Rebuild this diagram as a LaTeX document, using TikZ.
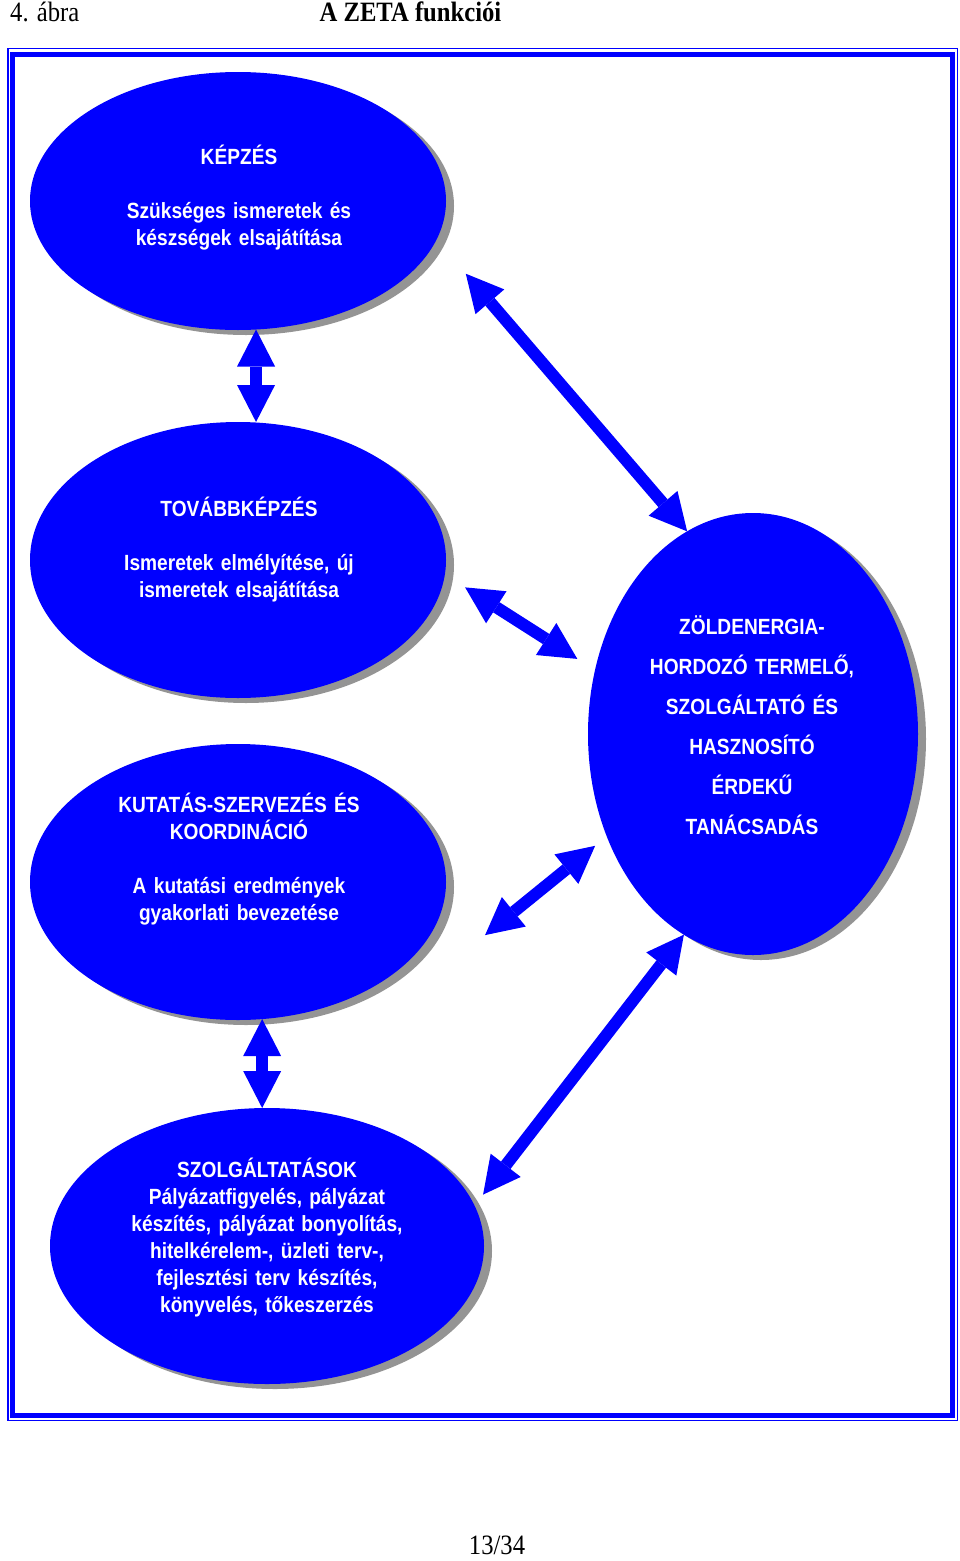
\documentclass[tikz,border=0pt]{standalone}
\usepackage{fontspec}
\setmainfont[FakeStretch = 0.88]{Liberation Serif}
\setsansfont[FakeStretch = 0.87]{Liberation Sans}
\usetikzlibrary{shapes.geometric}
\usetikzlibrary{shadows}
\usetikzlibrary{arrows.meta}
\definecolor{zetablue}{RGB}{0,0,255}
\tikzset{
	blob/.style = {ellipse, fill = zetablue, inner sep = 0pt, outer sep = 0pt, drop shadow = {shadow xshift = 8pt, shadow yshift = -5pt, fill = black!42, opacity = 1}},
	blobtext/.style = {anchor = base, inner sep = 0pt, text width = 320pt, text = white, align = center, font = \sffamily\bfseries\fontsize{22}{27}\selectfont},
	biarrow/.style = {zetablue, line width = 12pt, {Triangle[length = 37pt, width = 38pt, line width = 0pt]}-{Triangle[length = 37pt, width = 38pt, line width = 0pt]}}
}
\begin{document}
\begin{tikzpicture}[x = 1pt, y = -1pt]
		\useasboundingbox (0,0) rectangle (960,1561);
		\draw[zetablue, line width = 1.5pt] (8,48.5) rectangle (957.5,1420.5);
		\draw[zetablue, line width = 5pt] (12.5,54) rectangle (952.5,1415.5);
		%
		\node (cim)[anchor = base west, inner sep = 0pt, font = \fontsize{28}{30}\selectfont] at (10,21){4. ábra};
		\node (focim)[anchor = base, inner sep = 0pt, font = \bfseries\fontsize{28}{30}\selectfont] at (410.5,21){A ZETA funkciói};
		\node (oldal)[anchor = base, inner sep = 0pt, font = \fontsize{28}{30}\selectfont] at (497,1554){13/34};
		%
		\node (kepzes)[blob, minimum width = 416pt, minimum height = 258pt] at (238,201){};
		\node (tovabb)[blob, minimum width = 416pt, minimum height = 276pt] at (238,560){};
		\node (kutat)[blob, minimum width = 416pt, minimum height = 276pt] at (238,882){};
		\node (zold)[blob, minimum width = 330pt, minimum height = 442pt] at (753,734){};
		\node (szolg)[blob, minimum width = 434pt, minimum height = 276pt] at (267,1246){};
		%
		\node (t1)[blobtext] at ([shift = {(1,-37)}]kepzes.center){KÉPZÉS\\[27pt]Szükséges ismeretek és\\készségek elsajátítása};
		\node (t2)[blobtext] at ([shift = {(1,-44)}]tovabb.center){TOVÁBBKÉPZÉS\\[27pt]Ismeretek elmélyítése, új\\ismeretek elsajátítása};
		\node (t3)[blobtext] at ([shift = {(1,-70)}]kutat.center){KUTATÁS-SZERVEZÉS ÉS\\KOORDINÁCIÓ\\[27pt]A kutatási eredmények\\gyakorlati bevezetése};
		\node (t4)[blobtext, font = \sffamily\bfseries\fontsize{22}{40}\selectfont] at ([shift = {(-1,-100)}]zold.center){ZÖLDENERGIA-\\HORDOZÓ TERMELŐ,\\SZOLGÁLTATÓ ÉS\\HASZNOSÍTÓ\\ÉRDEKŰ\\TANÁCSADÁS};
		\node (t5)[blobtext] at ([shift = {(0,-69)}]szolg.center){SZOLGÁLTATÁSOK\\Pályázatfigyelés, pályázat\\készítés, pályázat bonyolítás,\\hitelkérelem-, üzleti terv-,\\fejlesztési terv készítés,\\könyvelés, tőkeszerzés};
		%
		\draw[biarrow] (kepzes.-82) -- (kepzes.-82 |- tovabb.north);
		\draw[biarrow] (kutat.-80) -- (kutat.-80 |- szolg.north);
		\draw[biarrow, shorten <= 45pt] (kepzes.-11.4) -- (zold.108.6);
		\draw[biarrow, shorten <= 24pt, shorten >= 21pt] (tovabb.-4.1) -- (zold.158.8);
		\draw[biarrow, shorten >= 15pt] ([shift = {(49,11)}]kutat.-12.6) -- (zold.215.5);
		\draw[biarrow, shorten <= 14pt] (szolg.11) -- (zold.251.5);
	\end{tikzpicture}
\end{document}
